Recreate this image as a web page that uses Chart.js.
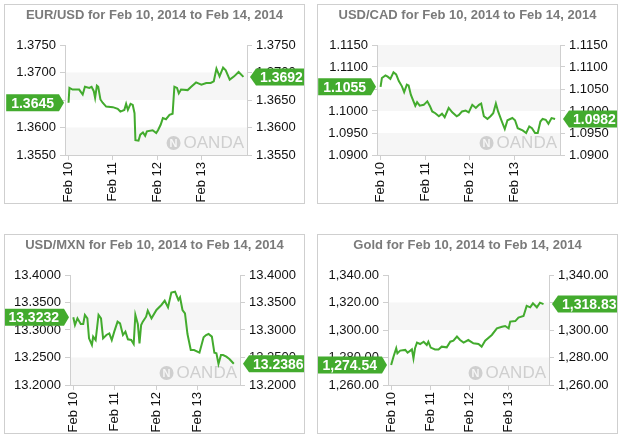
<!DOCTYPE html>
<html>
<head>
<meta charset="utf-8">
<script src="https://cdn.jsdelivr.net/npm/chart.js@4"></script>
<style>
  body { margin: 0; background: #fff; width: 621px; height: 441px; position: relative; font-family: "Liberation Sans", Arial, sans-serif; }
  .panel { position: absolute; width: 299px; height: 198px; border: 1px solid #cfcfcf; }
  .panel canvas { position: absolute; left: 0; top: 0; }
</style>
</head>
<body>
<div class="panel" style="left:4px;top:4px"><canvas id="eurusd" width="299" height="198"></canvas></div>
<div class="panel" style="left:317px;top:4px"><canvas id="usdcad" width="299" height="198"></canvas></div>
<div class="panel" style="left:4px;top:234px"><canvas id="usdmxn" width="299" height="198"></canvas></div>
<div class="panel" style="left:317px;top:234px"><canvas id="gold" width="299" height="198"></canvas></div>
<script>
// day labels for the x axis (days since Feb 10)
const dayTicks = [0, 1, 2, 3];
const dayLabels = ['Feb 10', 'Feb 11', 'Feb 12', 'Feb 13'];

// EUR/USD
const eurDays = [0,0.02,0.09,0.24,0.32,0.37,0.47,0.52,0.57,0.60,0.64,0.67,0.72,0.77,0.85,1.00,1.11,1.17,1.26,1.30,1.34,1.40,1.45,1.49,1.51,1.58,1.62,1.68,1.73,1.77,1.90,1.98,2.02,2.08,2.13,2.20,2.28,2.35,2.39,2.45,2.49,2.54,2.69,2.77,2.88,3.00,3.11,3.21,3.28,3.34,3.41,3.49,3.55,3.64,3.74,3.84,3.95];
const eurValues = [1.3645,1.3672,1.3669,1.3669,1.3660,1.3674,1.3672,1.3674,1.3666,1.3654,1.3676,1.3674,1.3651,1.3645,1.3638,1.3637,1.3634,1.3629,1.3632,1.3643,1.3632,1.3643,1.3641,1.3626,1.3577,1.3576,1.3587,1.3591,1.3585,1.3593,1.3595,1.3590,1.3595,1.3605,1.3617,1.3615,1.3623,1.3625,1.3674,1.3672,1.3662,1.3669,1.3668,1.3674,1.3682,1.3678,1.3681,1.3681,1.3684,1.3707,1.3693,1.3709,1.3704,1.3687,1.3693,1.3701,1.3692];
const eurTicks = [1.3550, 1.3600, 1.3650, 1.3700, 1.3750];

// USD/CAD
const cadDays = [0,0.03,0.11,0.16,0.22,0.29,0.35,0.41,0.48,0.53,0.59,0.63,0.68,0.74,0.78,0.82,0.88,0.97,1.05,1.11,1.16,1.23,1.31,1.38,1.44,1.53,1.61,1.71,1.76,1.83,1.91,1.98,2.06,2.14,2.21,2.26,2.32,2.40,2.47,2.53,2.59,2.64,2.71,2.79,2.85,2.96,3.02,3.08,3.19,3.27,3.34,3.40,3.47,3.53,3.59,3.64,3.71,3.77,3.84,3.92];
const cadValues = [1.1055,1.1075,1.1081,1.1078,1.1073,1.1088,1.1083,1.1068,1.1056,1.1043,1.1060,1.1058,1.1037,1.1022,1.1012,1.1020,1.1012,1.1014,1.1022,1.1011,1.0999,1.0995,1.0988,1.0994,1.0986,1.1007,1.0997,1.0988,1.0991,1.0999,1.1001,1.0997,1.1014,1.1007,1.1014,1.1017,1.0988,1.0982,1.0988,1.0995,1.1017,1.0999,1.0980,1.0959,1.0979,1.0984,1.0979,1.0961,1.0956,1.0950,1.0965,1.0961,1.0950,1.0950,1.0976,1.0982,1.0980,1.0971,1.0984,1.0982];
const cadTicks = [1.0900, 1.0950, 1.1000, 1.1050, 1.1100, 1.1150];

// USD/MXN
const mxnDays = [0,0.04,0.10,0.18,0.24,0.28,0.34,0.38,0.45,0.48,0.54,0.61,0.67,0.72,0.80,0.87,0.93,0.99,1.07,1.13,1.20,1.26,1.32,1.40,1.46,1.50,1.56,1.60,1.64,1.68,1.76,1.80,1.89,2.01,2.13,2.21,2.29,2.37,2.46,2.54,2.58,2.64,2.70,2.76,2.84,2.92,3.05,3.15,3.21,3.27,3.35,3.41,3.46,3.51,3.57,3.62,3.70,3.78,3.88];
const mxnValues = [13.3232,13.3091,13.3212,13.3109,13.3109,13.3273,13.3212,13.2848,13.2727,13.2879,13.2818,13.3273,13.3212,13.2848,13.2909,13.2939,13.2818,13.2970,13.3152,13.3121,13.2909,13.2970,13.2830,13.2818,13.2745,13.3273,13.3109,13.2758,13.3091,13.3152,13.3242,13.3352,13.3212,13.3364,13.3455,13.3533,13.3412,13.3679,13.3697,13.3545,13.3594,13.3364,13.3303,13.2927,13.2636,13.2636,13.2588,13.2867,13.2909,13.2927,13.2879,13.2588,13.2576,13.2382,13.2545,13.2545,13.2515,13.2467,13.2386];
const mxnTicks = [13.2, 13.25, 13.3, 13.35, 13.4];

// Gold
const goldDays = [0,0.06,0.13,0.16,0.23,0.36,0.42,0.49,0.53,0.57,0.61,0.66,0.74,0.83,0.91,0.95,1.01,1.12,1.21,1.29,1.42,1.51,1.59,1.68,1.76,1.85,1.97,2.10,2.23,2.31,2.40,2.57,2.70,2.83,2.91,3.00,3.04,3.17,3.25,3.38,3.46,3.55,3.62,3.72,3.80,3.89];
const goldValues = [1274.54,1280.6,1286.7,1283.0,1285.0,1285.5,1283.5,1285.0,1285.9,1279.4,1286.7,1290.8,1289.8,1291.5,1289.1,1291.5,1287.2,1285.9,1285.9,1287.9,1287.4,1291.5,1292.2,1295.2,1292.7,1290.8,1292.7,1290.3,1289.8,1287.9,1292.2,1296.4,1301.2,1302.4,1302.9,1301.2,1306.1,1306.5,1309.0,1310.2,1317.5,1316.5,1319.4,1316.5,1319.9,1318.83];
const goldTicks = [1260, 1280, 1300, 1320, 1340];

const GREEN = '#43ab2e';
const FONT = '"Liberation Sans", Arial, sans-serif';
const fmt4 = v => v.toFixed(4);
const fmtGold = v => v.toLocaleString('en-US', { minimumFractionDigits: 2, maximumFractionDigits: 2 });

// title, alternating bands, OANDA mark and value tags
const decorPlugin = {
  id: 'decor',
  beforeDatasetsDraw(chart, args, opts) {
    const { ctx, chartArea: a } = chart;
    const y = chart.scales.y;
    const t = opts.ticks;
    ctx.save();
    ctx.fillStyle = '#f6f6f6';
    for (let i = 0; i < t.length - 1; i += 2) {
      const y1 = y.getPixelForValue(t[i]), y2 = y.getPixelForValue(t[i + 1]);
      ctx.fillRect(a.left + 1, y2, a.right - a.left - 1, y1 - y2);
    }
    // watermark
    ctx.fillStyle = '#cfcfcf';
    ctx.font = '17px ' + FONT;
    ctx.textAlign = 'right';
    ctx.textBaseline = 'middle';
    const wy = a.bottom - 12;
    ctx.fillText('OANDA', a.right - 3, wy);
    const w = ctx.measureText('OANDA').width;
    ctx.beginPath();
    ctx.arc(a.right - 3 - w - 10, wy, 7, 0, Math.PI * 2);
    ctx.fill();
    ctx.fillStyle = '#f6f6f6';
    ctx.font = 'bold 11px ' + FONT;
    ctx.textAlign = 'center';
    ctx.fillText('N', a.right - 3 - w - 10, wy + 1);
    // title
    ctx.fillStyle = '#7a7a7a';
    ctx.font = 'bold 13px ' + FONT;
    ctx.fillText(opts.title, chart.width / 2, 10);
    ctx.restore();
  },
  afterDraw(chart, args, opts) {
    const { ctx, chartArea: a } = chart;
    const y = chart.scales.y;
    const vals = chart.data.datasets[0].data;
    const first = vals[0].y, last = vals[vals.length - 1].y;
    ctx.save();
    ctx.font = 'bold 14px ' + FONT;
    ctx.textBaseline = 'middle';
    const h = 17;
    // left tag
    let py = y.getPixelForValue(first);
    let txt = opts.format(first);
    let w = ctx.measureText(txt).width + 10;
    const x2 = a.left - 1;
    ctx.fillStyle = GREEN;
    ctx.beginPath();
    ctx.moveTo(x2 - 5 - w, py - h / 2);
    ctx.lineTo(x2 - 5, py - h / 2);
    ctx.lineTo(x2, py);
    ctx.lineTo(x2 - 5, py + h / 2);
    ctx.lineTo(x2 - 5 - w, py + h / 2);
    ctx.closePath();
    ctx.fill();
    ctx.fillStyle = '#fff';
    ctx.textAlign = 'center';
    ctx.fillText(txt, x2 - 5 - w / 2, py + 1);
    // right tag
    py = y.getPixelForValue(last);
    txt = opts.format(last);
    w = ctx.measureText(txt).width + 8;
    const x1 = a.right + 3;
    ctx.fillStyle = GREEN;
    ctx.beginPath();
    ctx.moveTo(x1, py);
    ctx.lineTo(x1 + 6, py - h / 2);
    ctx.lineTo(x1 + 6 + w, py - h / 2);
    ctx.lineTo(x1 + 6 + w, py + h / 2);
    ctx.lineTo(x1 + 6, py + h / 2);
    ctx.closePath();
    ctx.fill();
    ctx.fillStyle = '#fff';
    ctx.fillText(txt, x1 + 6 + w / 2, py + 1);
    ctx.restore();
  }
};

function makeChart(id, title, days, values, ticks, format, left, right) {
  const W = 299, H = 198, TOP = 40, BOTTOM = 150;
  const tickFont = { family: FONT, size: 13 };
  const yAxis = (pos, width) => ({
    position: pos,
    min: ticks[0],
    max: ticks[ticks.length - 1],
    afterBuildTicks: s => { s.ticks = ticks.map(v => ({ value: v })); },
    afterFit: s => { s.width = width; },
    ticks: { color: '#111', font: tickFont, padding: 4, callback: v => format(v) },
    grid: { drawOnChartArea: false, tickLength: 5, color: '#cfcfcf' },
    border: { color: '#cfcfcf' }
  });
  new Chart(document.getElementById(id), {
    type: 'line',
    data: {
      datasets: [{
        data: days.map((d, i) => ({ x: d, y: values[i] })),
        borderColor: GREEN,
        borderWidth: 2,
        pointRadius: 0,
        tension: 0
      }]
    },
    options: {
      responsive: false,
      animation: false,
      layout: { padding: { top: TOP, left: 0, right: 0, bottom: 0 } },
      plugins: {
        legend: { display: false },
        tooltip: { enabled: false },
        title: { display: false },
        decor: { ticks, format, title }
      },
      scales: {
        x: {
          type: 'linear',
          min: -0.08,
          max: 4.03,
          afterBuildTicks: s => { s.ticks = dayTicks.map(v => ({ value: v })); },
          afterFit: s => { s.height = H - BOTTOM; },
          ticks: {
            color: '#111', font: tickFont, minRotation: 90, maxRotation: 90, padding: 2,
            callback: v => dayLabels[dayTicks.indexOf(v)]
          },
          grid: { drawOnChartArea: false, tickLength: 5, color: '#cfcfcf' },
          border: { color: '#cfcfcf' }
        },
        y: yAxis('left', left),
        y2: yAxis('right', W - right)
      }
    },
    plugins: [decorPlugin]
  });
}

makeChart('eurusd', 'EUR/USD for Feb 10, 2014 to Feb 14, 2014', eurDays, eurValues, eurTicks, fmt4, 60, 242);
makeChart('usdcad', 'USD/CAD for Feb 10, 2014 to Feb 14, 2014', cadDays, cadValues, cadTicks, fmt4, 59, 242);
makeChart('usdmxn', 'USD/MXN for Feb 10, 2014 to Feb 14, 2014', mxnDays, mxnValues, mxnTicks, fmt4, 65, 235);
makeChart('gold', 'Gold for Feb 10, 2014 to Feb 14, 2014', goldDays, goldValues, goldTicks, fmtGold, 70, 231);
</script>
</body>
</html>
